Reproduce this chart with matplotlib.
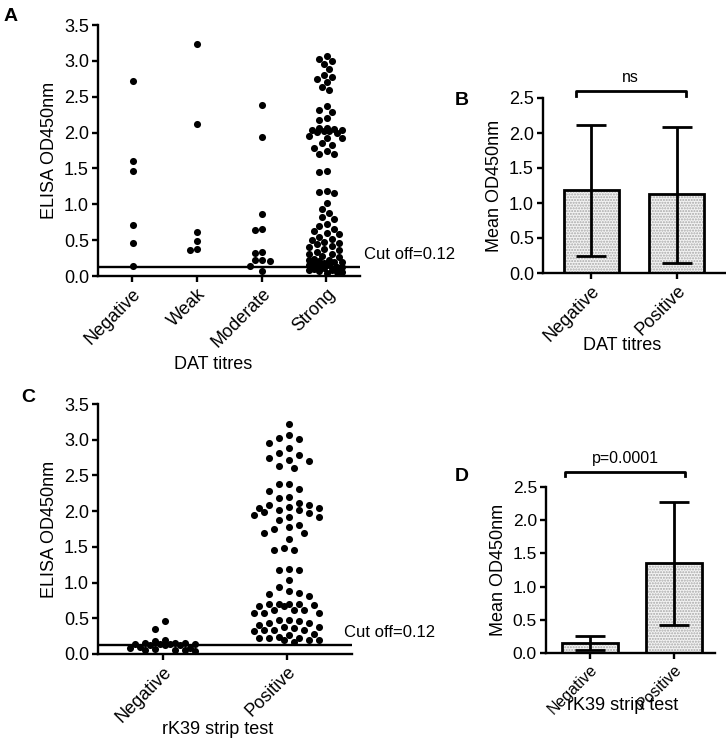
import numpy as np
import matplotlib
matplotlib.use('Agg')
import matplotlib.pyplot as plt

plt.rcParams['font.family'] = ['Liberation Sans', 'DejaVu Sans']

# ---- data ----
dat_groups = ['Negative', 'Weak', 'Moderate', 'Strong']
dat_negative = [2.72, 1.61, 1.46, 0.71, 0.46, 0.14]
dat_weak = [3.23, 2.12, 0.62, 0.49, 0.37, 0.36]
dat_moderate = [2.38, 1.94, 0.87, 0.65, 0.64, 0.34, 0.32, 0.23, 0.22, 0.21, 0.14, 0.07]
dat_strong = [3.07, 3.03, 3.00, 2.95, 2.88, 2.80, 2.77, 2.75, 2.70, 2.63, 2.59,
              2.37, 2.31, 2.28, 2.20, 2.18,
              2.07, 2.07, 2.05, 2.04, 2.04, 2.02, 2.02, 2.01, 2.00, 1.95, 1.92, 1.92,
              1.85, 1.83, 1.79, 1.74, 1.70, 1.70,
              1.47, 1.45, 1.19, 1.17, 1.16,
              1.02, 0.93, 0.88, 0.82, 0.80,
              0.72, 0.70, 0.66, 0.63, 0.60, 0.58, 0.55, 0.52, 0.50,
              0.48, 0.46, 0.44, 0.42, 0.40, 0.37, 0.36, 0.34, 0.31, 0.30, 0.28,
              0.26, 0.24, 0.23, 0.22, 0.21, 0.20, 0.19, 0.18, 0.17, 0.16, 0.15, 0.14,
              0.13, 0.12, 0.11, 0.10, 0.09, 0.08, 0.07, 0.06, 0.05, 0.04]

rk39_groups = ['Negative', 'Positive']
rk39_negative = [0.46, 0.35, 0.20, 0.18, 0.16, 0.15, 0.15, 0.14, 0.14, 0.14, 0.14,
                 0.13, 0.13, 0.12, 0.10, 0.09, 0.08, 0.07, 0.06, 0.05, 0.05, 0.04]
rk39_positive = [3.22, 3.06, 3.03, 3.01, 2.95, 2.88, 2.81, 2.79, 2.75, 2.72, 2.70,
                 2.63, 2.60, 2.38, 2.38, 2.31, 2.28, 2.20, 2.18, 2.12, 2.08, 2.08,
                 2.06, 2.05, 2.05, 2.02, 2.02, 1.99, 1.98, 1.94, 1.92, 1.92, 1.88,
                 1.81, 1.78, 1.75, 1.69, 1.69, 1.61, 1.48, 1.46, 1.46, 1.19, 1.18,
                 1.17, 1.03, 0.94, 0.88, 0.86, 0.84, 0.81, 0.70, 0.70, 0.70, 0.70,
                 0.68, 0.67, 0.67, 0.62, 0.62, 0.61, 0.57, 0.57, 0.57, 0.47, 0.47,
                 0.46, 0.44, 0.44, 0.41, 0.38, 0.38, 0.37, 0.34, 0.34, 0.33, 0.32,
                 0.28, 0.26, 0.24, 0.23, 0.23, 0.23, 0.20, 0.20, 0.19, 0.17]

cutoff = 0.12

# mean bars with lower / upper whisker ends
bar_groups = ['Negative', 'Positive']
b_mean = [1.19, 1.13]
b_low = [0.25, 0.15]
b_high = [2.12, 2.09]
d_mean = [0.15, 1.36]
d_low = [0.05, 0.42]
d_high = [0.25, 2.28]

FS = 13
W, H = 726, 742
fig = plt.figure(figsize=(W / 100, H / 100), dpi=100)


def add_axes_px(left, top, right, bottom):
    return fig.add_axes([left / W, 1 - bottom / H, (right - left) / W, (bottom - top) / H])


def style_axes(ax, fs=FS):
    for s in ['top', 'right']:
        ax.spines[s].set_visible(False)
    for s in ['left', 'bottom']:
        ax.spines[s].set_linewidth(1.7)
    ax.tick_params(direction='out', length=4.5, width=1.7, labelsize=fs, pad=2)


def swarm(ax, xc, values, step, sep, maxw):
    """beeswarm x positions, computed in pixel space"""
    vals = np.asarray(values, dtype=float)
    pts = ax.transData.transform(np.column_stack([np.full(len(vals), xc), vals]))
    cands = np.arange(-maxw, maxw + 0.01, step / 2.0)
    cands = cands[np.argsort(np.abs(cands), kind='stable')]
    placed = []
    xs = np.zeros(len(vals))
    for i in np.argsort(-vals, kind='stable'):
        x0, y0 = pts[i]
        best, best_d = 0.0, -1
        for c in cands:
            if not placed:
                best = c
                break
            p = np.array(placed)
            d = np.min(np.hypot(p[:, 0] - (x0 + c), p[:, 1] - y0))
            if d >= sep:
                best = c
                break
            if d > best_d:
                best, best_d = c, d
        placed.append((x0 + best, y0))
        xs[i] = x0 + best
    return ax.transData.inverted().transform(np.column_stack([xs, pts[:, 1]]))[:, 0]


# ---- A: ELISA vs DAT titres ----
axA = add_axes_px(98, 25, 360, 276)
axA.set_xlim(-0.53, 3.52)
axA.set_ylim(0, 3.5)
style_axes(axA)
axA.axhline(cutoff, color='black', lw=1.7, zorder=1)
for i, vals in enumerate([dat_negative, dat_weak, dat_moderate, dat_strong]):
    xs = swarm(axA, i, vals, step=5, sep=7, maxw=17)
    axA.scatter(xs, vals, s=26, color='black', linewidths=0, zorder=3, clip_on=False)
axA.set_xticks(range(len(dat_groups)))
axA.set_xticklabels(dat_groups, rotation=45, ha='right', va='top', rotation_mode='anchor')
axA.set_yticks(np.arange(0, 3.51, 0.5))
axA.set_yticklabels([f'{v:.1f}' for v in np.arange(0, 3.51, 0.5)])
axA.set_ylabel('ELISA OD450nm', fontsize=FS)
axA.set_xlabel('DAT titres', fontsize=FS)
axA.xaxis.set_label_coords(0.44, -0.32)
axA.text(1.015, 0.19, 'Cut off=0.12', transform=axA.get_yaxis_transform(),
         fontsize=12, ha='left', va='bottom', clip_on=False)
fig.text(4 / W, 1 - 21 / H, 'A', fontsize=14, fontweight='bold')

# ---- C: ELISA vs rK39 ----
axC = add_axes_px(98, 404, 352, 654)
axC.set_xlim(-0.52, 1.52)
axC.set_ylim(0, 3.5)
style_axes(axC)
axC.axhline(cutoff, color='black', lw=1.7, zorder=1)
for i, vals in enumerate([rk39_negative, rk39_positive]):
    xs = swarm(axC, i, vals, step=10, sep=9.5, maxw=33)
    axC.scatter(xs, vals, s=26, color='black', linewidths=0, zorder=3, clip_on=False)
axC.set_xticks(range(len(rk39_groups)))
axC.set_xticklabels(rk39_groups, rotation=45, ha='right', va='top', rotation_mode='anchor')
axC.set_yticks(np.arange(0, 3.51, 0.5))
axC.set_yticklabels([f'{v:.1f}' for v in np.arange(0, 3.51, 0.5)])
axC.set_ylabel('ELISA OD450nm', fontsize=FS)
axC.set_xlabel('rK39 strip test', fontsize=FS)
axC.xaxis.set_label_coords(0.47, -0.27)
axC.text(0.97, 0.2, 'Cut off=0.12', transform=axC.get_yaxis_transform(),
         fontsize=12, ha='left', va='bottom', clip_on=False)
fig.text(21 / W, 1 - 402 / H, 'C', fontsize=14, fontweight='bold')


def bar_panel(ax, means, lows, highs, width, capsize, fs=FS):
    x = np.arange(len(means))
    ax.bar(x, means, width=width, color='#f3f3f3', edgecolor='#a8a8a8', hatch='......',
           linewidth=0, zorder=1)
    ax.bar(x, means, width=width, fill=False, edgecolor='black', linewidth=2, zorder=2)
    err = [np.array(means) - np.array(lows), np.array(highs) - np.array(means)]
    ax.errorbar(x, means, yerr=err, fmt='none', ecolor='black', elinewidth=2,
                capsize=capsize, capthick=2, zorder=3)
    ax.set_ylim(0, 2.5)
    ax.set_yticks(np.arange(0, 2.51, 0.5))
    ax.set_yticklabels([f'{v:.1f}' for v in np.arange(0, 2.51, 0.5)])
    ax.set_xticks(x)
    ax.set_xticklabels(bar_groups, rotation=45, ha='right', va='top', rotation_mode='anchor')
    style_axes(ax, fs)
    ax.set_ylabel('Mean OD450nm', fontsize=FS)


def bracket(ax, x0, x1, y, label, ytext):
    tick = 0.07
    ax.plot([x0, x0, x1, x1], [y - tick, y, y, y - tick], color='black', lw=2,
            clip_on=False)
    ax.text((x0 + x1) / 2, ytext, label, ha='center', va='bottom', fontsize=11.5,
            clip_on=False)


# ---- B: mean OD vs DAT ----
axB = add_axes_px(543, 98, 725, 273)
axB.set_xlim(-0.56, 1.56)
bar_panel(axB, b_mean, b_low, b_high, width=0.64, capsize=11)
axB.set_xlabel('DAT titres', fontsize=FS)
axB.xaxis.set_label_coords(0.434, -0.366)
bracket(axB, -0.18, 1.1, 2.6, 'ns', 2.68)
fig.text(455 / W, 1 - 105 / H, 'B', fontsize=14, fontweight='bold')

# ---- D: mean OD vs rK39 ----
axD = add_axes_px(546, 487, 715, 653)
axD.set_xlim(-0.52, 1.49)
bar_panel(axD, d_mean, d_low, d_high, width=0.67, capsize=11, fs=12.5)
axD.tick_params(axis='x', labelsize=11.5)
axD.set_xlabel('rK39 strip test', fontsize=FS)
axD.xaxis.set_label_coords(0.456, -0.265)
bracket(axD, -0.29, 1.13, 2.73, 'p=0.0001', 2.82)
fig.text(455 / W, 1 - 481 / H, 'D', fontsize=14, fontweight='bold')

fig.savefig('out.png', dpi=100)
